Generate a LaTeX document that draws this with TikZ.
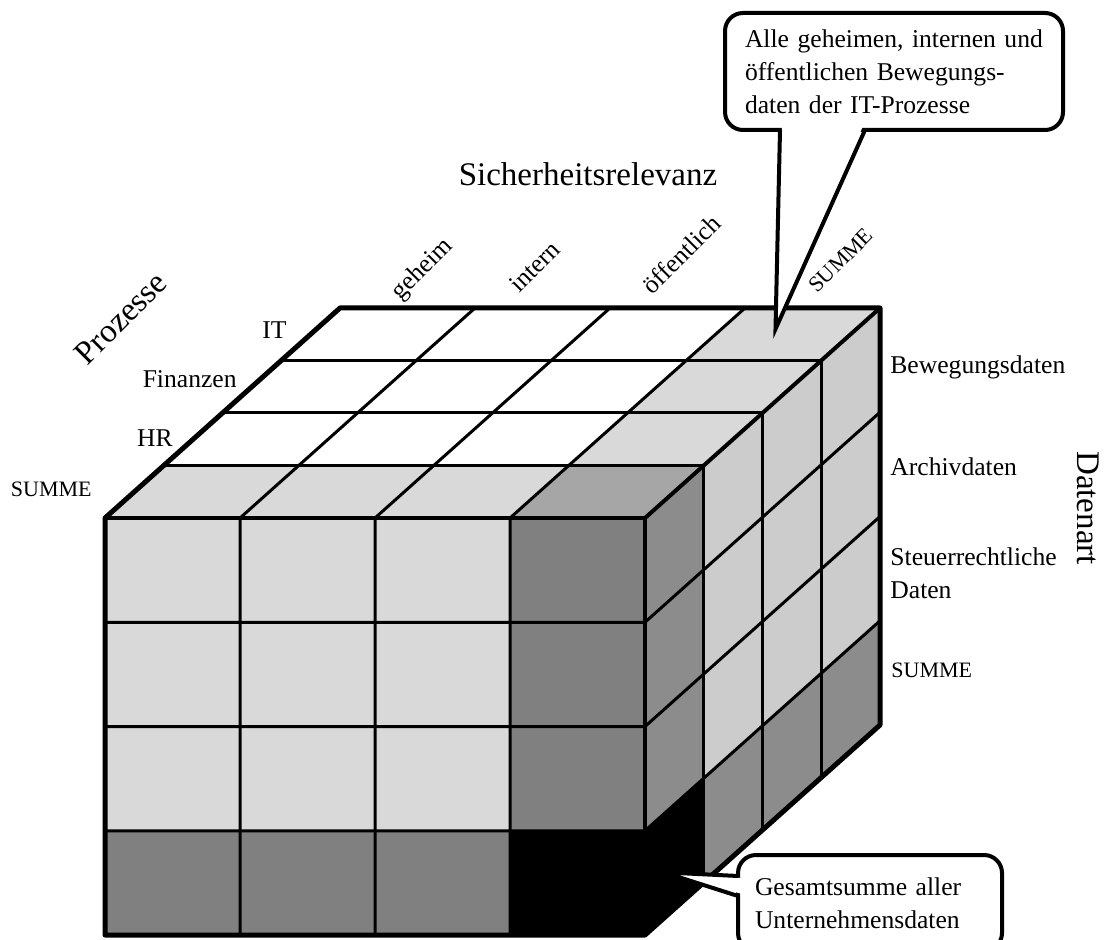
\documentclass[tikz,border=0pt]{standalone}
\usepackage{fontspec}
\setmainfont{Liberation Serif}
\usetikzlibrary{calc}
\newcommand{\cubebig}{\fontsize{16.5}{20}\selectfont}
\newcommand{\cubelab}{\fontsize{12.8}{16.5}\selectfont}
\newcommand{\cubesum}{\fontsize{11}{13}\selectfont}
\definecolor{facelight}{gray}{0.85}
\definecolor{facemid}{gray}{0.65}
\definecolor{facedark}{gray}{0.5}
\definecolor{sidelight}{gray}{0.8}
\definecolor{sidedark}{gray}{0.55}
\tikzset{
gridline/.style={line width=1.5pt}, % borders between the cells
ridge/.style={line width=2pt}, % inner edges of the cube
hull/.style={line width=2.5pt, line join=round}, % outline of the cube
note/.style={draw, line width=2pt, rounded corners=9pt, fill=white, outer sep=0pt,
  anchor=north west, align=left, font=\cubelab},
pointer/.style={line width=2pt, line join=miter, miter limit=25},
lab/.style={font=\cubelab, inner sep=0pt},
sumlab/.style={font=\cubesum, inner sep=0pt},
axis/.style={font=\cubebig, inner sep=0pt},
}
\def\frontface{(0,0,0) rectangle (4,4,0)}
\def\topface{(0,4,0) -- (4,4,0) -- (4,4,4) -- (0,4,4) -- cycle}
\def\sideface{(4,0,0) -- (4,4,0) -- (4,4,4) -- (4,0,4) -- cycle}

\begin{document}
\begin{tikzpicture}[x=0.5pt, y=-0.5pt]
    \useasboundingbox (0,0) rectangle (1112,940);

    % the cube, one unit per cell
    \begin{scope}[shift={(105,935)}, x={(67.5pt,0pt)}, y={(0pt,52.125pt)},
        z={(29.375pt,26.25pt)}]
        % front face
        \fill[facelight] \frontface;
        \fill[facedark] (3,1,0) rectangle (4,4,0);
        \fill[facedark] (0,0,0) rectangle (3,1,0);
        \fill[black] (3,0,0) rectangle (4,1,0);

        % top face
        \fill[white] \topface;
        \fill[facelight] (0,4,0) -- (3,4,0) -- (3,4,1) -- (0,4,1) -- cycle;
        \fill[facelight] (3,4,1) -- (4,4,1) -- (4,4,4) -- (3,4,4) -- cycle;
        \fill[facemid] (3,4,0) -- (4,4,0) -- (4,4,1) -- (3,4,1) -- cycle;

        % side face
        \fill[sidelight] \sideface;
        \fill[sidedark] (4,0,0) -- (4,4,0) -- (4,4,1) -- (4,0,1) -- cycle;
        \fill[sidedark] (4,0,0) -- (4,1,0) -- (4,1,4) -- (4,0,4) -- cycle;
        \fill[black] (4,0,0) -- (4,1,0) -- (4,1,1) -- (4,0,1) -- cycle;

        \foreach \n in {1,2,3} {
            \draw[gridline] (\n,0,0) -- (\n,4,0) -- (\n,4,4);
            \draw[gridline] (0,\n,0) -- (4,\n,0) -- (4,\n,4);
            \draw[gridline] (0,4,\n) -- (4,4,\n) -- (4,0,\n);
        }
        \draw[ridge] (0,4,0) -- (4,4,0) -- (4,0,0);
        \draw[ridge] (4,4,0) -- (4,4,4);
        \draw[hull] (0,0,0) -- (4,0,0) -- (4,0,4) -- (4,4,4) -- (0,4,4) -- (0,4,0) -- cycle;

        \coordinate (ttip) at (3.4,4,3.6);
        \coordinate (btip) at (4,0.44,0.32);
    \end{scope}

    % axis titles
    \node[axis] (secaxis) at (588,174) {Sicherheitsrelevanz};
    \node[axis, rotate=45] (procaxis) at (121,318) {Prozesse};
    \node[axis, rotate=-90] (typeaxis) at (1088,508) {Datenart};

    % columns
    \foreach \lab/\px/\py [count=\n] in {geheim/400/301, intern/519/294, öffentlich/652/296}
        \node[lab, rotate=45, anchor=base west] (col\n) at (\px,\py) {\lab};
    \node[sumlab, rotate=45, anchor=base west] (colsum) at (817,294) {SUMME};

    % rows
    \foreach \lab/\px/\py [count=\n] in {IT/287/330, Finanzen/237/379, HR/173/438}
        \node[lab, anchor=east] (proc\n) at (\px,\py) {\lab};
    \node[sumlab, anchor=east] (procsum) at (92,489) {SUMME};

    % data types
    \node[lab, anchor=west] (type1) at (890,367) {Bewegungsdaten};
    \node[lab, anchor=west] (type2) at (890,467) {Archivdaten};
    \node[lab, anchor=west, align=left] (type3) at (890,573) {Steuerrechtliche\\Daten};
    \node[sumlab, anchor=west] (typesum) at (891,670) {SUMME};

    % callouts
    \node[note, minimum width=169pt, minimum height=58.5pt, text width=149pt,
        inner xsep=10pt] (itnote) at (725,13)
        {Alle geheimen, internen und\\öffentlichen Bewegungs-\\daten der IT-Prozesse};
    \fill[white] ($(itnote.south west)+(57,-4)$) -- (ttip)
        -- ($(itnote.south west)+(138,-4)$) -- cycle;
    \draw[pointer] ($(itnote.south west)+(55,0)$) -- (ttip)
        -- ($(itnote.south west)+(140,0)$);

    \node[note, minimum width=132pt, minimum height=48pt, text width=115pt,
        inner xsep=8.5pt] (sumnote) at (738,855)
        {Gesamtsumme aller\\Unternehmensdaten};
    \fill[white] ($(sumnote.north west)+(4,23)$) -- (btip)
        -- ($(sumnote.north west)+(4,39)$) -- cycle;
    \draw[pointer] ($(sumnote.north west)+(0,21)$) -- (btip)
        -- ($(sumnote.north west)+(0,41)$);
\end{tikzpicture}
\end{document}
